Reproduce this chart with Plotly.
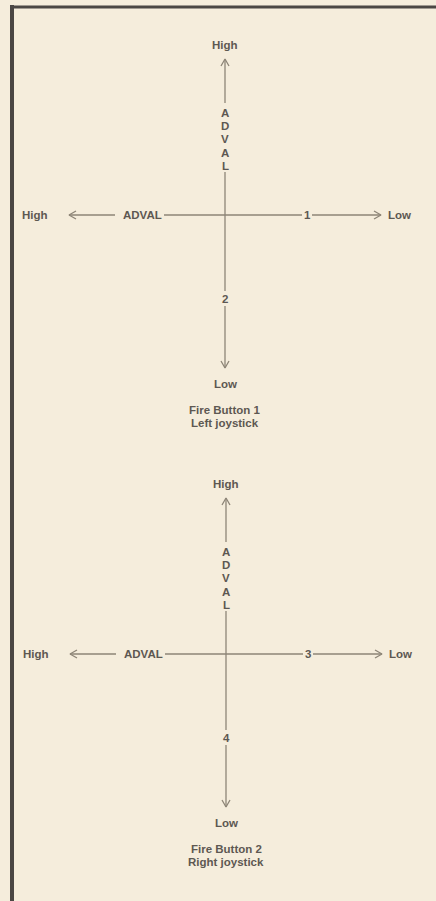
import plotly.graph_objects as go

# Labels of the two joystick diagrams
joysticks = ["Left joystick", "Right joystick"]
fire_buttons = ["Fire Button 1", "Fire Button 2"]
x_channels = ["1", "3"]
y_channels = ["2", "4"]
axis_word = "ADVAL"
end_labels = ["High", "Low"]

# Diagram centres in page pixels
centres = [(225, 215), (226, 654)]

BG = '#f5eddc'
LINE = '#8d8577'
TEXT = '#5d5852'
BORDER = '#4b4744'
FONT = dict(family='Liberation Sans', size=11.5, color=TEXT, weight='bold')

fig = go.Figure()
annotations = []


def seg(xs, ys, x0, y0, x1, y1):
    xs += [x0, x1, None]
    ys += [y0, y1, None]


for i, (cx, cy) in enumerate(centres):
    xs, ys = [], []
    # vertical axis: top arrow, gap for ADVAL letters, gap for channel number
    seg(xs, ys, cx, cy - 156, cx, cy - 112)
    seg(xs, ys, cx, cy - 43, cx, cy + 76)
    seg(xs, ys, cx, cy + 91, cx, cy + 153)
    # horizontal axis: left arrow, ADVAL gap, channel number gap
    seg(xs, ys, cx - 156, cy, cx - 110, cy)
    seg(xs, ys, cx - 61, cy, cx + 77, cy)
    seg(xs, ys, cx + 87, cy, cx + 156, cy)
    # arrow heads (open chevrons)
    for tx, ty, dx, dy in [(cx, cy - 156, 0, 1), (cx, cy + 153, 0, -1),
                           (cx - 156, cy, 1, 0), (cx + 156, cy, -1, 0)]:
        px, py = dy * 4, dx * 4
        xs += [tx + dx * 7 + px, tx, tx + dx * 7 - px, None]
        ys += [ty + dy * 7 + py, ty, ty + dy * 7 - py, None]
    fig.add_trace(go.Scatter(x=xs, y=ys, mode='lines',
                             line=dict(color=LINE, width=1.3),
                             hoverinfo='skip', showlegend=False))

    texts = [
        (cx, cy - 170, end_labels[0]),
        (cx, cy + 169, end_labels[1]),
        (cx - 190, cy, end_labels[0]),
        (cx + 174, cy, end_labels[1]),
        (cx - 83, cy, axis_word),
        (cx + 82, cy, x_channels[i]),
        (cx, cy + 84, y_channels[i]),
        (cx, cy + 195, fire_buttons[i]),
        (cx, cy + 208, joysticks[i]),
    ]
    for tx, ty, t in texts:
        annotations.append(dict(x=tx, y=ty, text=t, showarrow=False,
                                xanchor='center', yanchor='middle', font=FONT))
    # vertical ADVAL, one letter per line
    for k, ch in enumerate(axis_word):
        annotations.append(dict(x=cx, y=cy - 102 + k * 13.2, text=ch, showarrow=False,
                                xanchor='center', yanchor='middle', font=FONT))

# frame: thick left rule and top rule
fig.add_shape(type='line', x0=12, x1=12, y0=5, y1=901,
              line=dict(color=BORDER, width=4))
fig.add_shape(type='line', x0=10, x1=436, y0=7, y1=7,
              line=dict(color=BORDER, width=3))

fig.update_layout(
    width=436, height=901,
    margin=dict(l=0, r=0, t=0, b=0),
    paper_bgcolor=BG, plot_bgcolor=BG,
    annotations=annotations,
    xaxis=dict(range=[0, 436], visible=False, fixedrange=True),
    yaxis=dict(range=[901, 0], visible=False, fixedrange=True),
)

fig.write_html("out.html", config={'displayModeBar': False},
               post_script="document.body.style.margin='0';")
